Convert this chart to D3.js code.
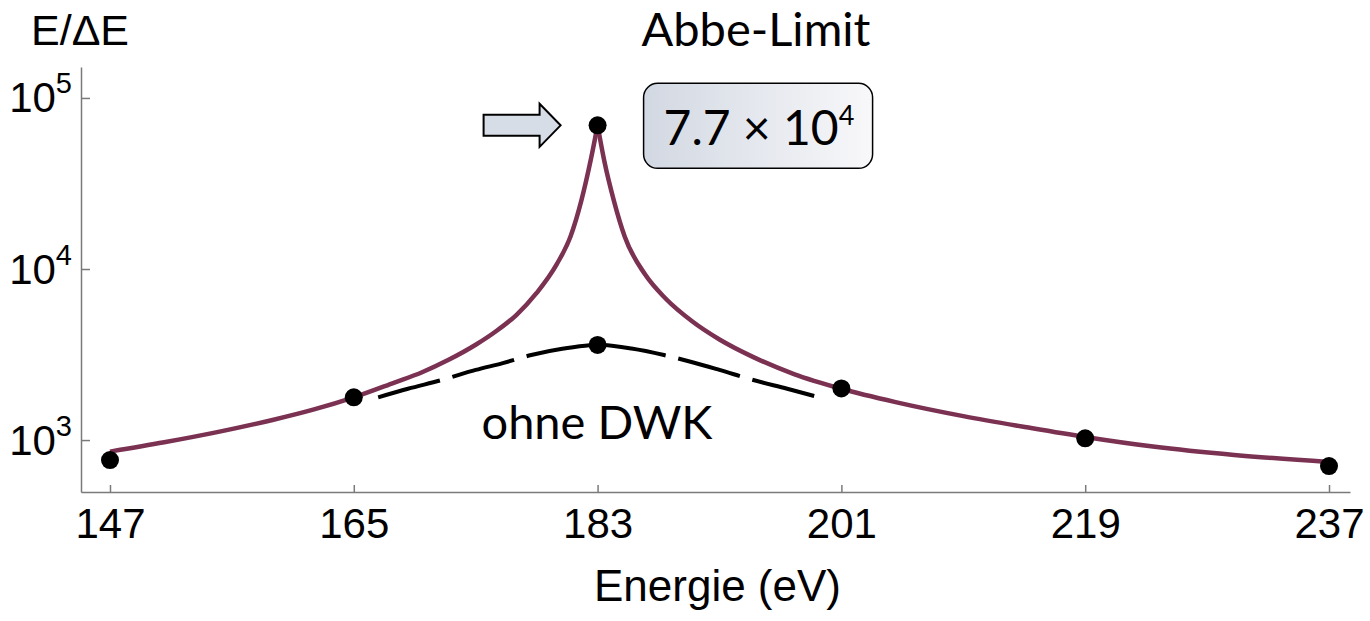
<!DOCTYPE html>
<html>
<head>
<meta charset="utf-8">
<script src="https://cdn.jsdelivr.net/npm/d3@7"></script>
<style>
  body { margin: 0; background: #fff; }
  svg { display: block; background: #fff; }
  .axis path, .axis line { stroke: #7a7a7a; stroke-width: 1.5; }
  .axis text { font-family: "Liberation Sans", Arial, sans-serif; font-size: 42px; fill: #000; }
  .note { font-family: Lato, "Open Sans", sans-serif; fill: #000; }
</style>
</head>
<body>
<svg id="chart" width="1370" height="621"></svg>
<script>
"use strict";

// axis ticks
const xTicks = [147, 165, 183, 201, 219, 237];
const yTicks = [1e3, 1e4, 1e5];
const yTickExp = ['3', '4', '5'];

// E/dE with DWK (solid line)
const curveE = [147, 151, 155, 159, 162, 165, 168, 170, 172, 174, 175.5, 177, 178.5, 180, 181, 181.8, 182.5, 183,
  183.5, 184.2, 185, 186.5, 188, 190, 192, 194.5, 197.5, 201, 205, 210, 215, 219, 224, 230, 237];
const curveR = [856, 970, 1116, 1311, 1506, 1778, 2168, 2483, 2944, 3606, 4325, 5383, 7244, 10720, 15490, 25120, 43650, 69180,
  42660, 25120, 15490, 9311, 6745, 4932, 3873, 3055, 2432, 1995, 1667, 1380, 1175, 1042, 916, 818, 745];

// ohne DWK (dashed line)
const dashE = [166.8, 169, 171.5, 174, 176, 178.1, 180.5, 183, 185.5, 187.9, 190, 192, 194.5, 197, 199.2];
const dashR = [1778, 1995, 2244, 2570, 2818, 3141, 3428, 3597, 3428, 3141, 2851, 2570, 2244, 1995, 1791];

// computed points
const dotE = [147, 165, 183, 183, 201, 219, 237];
const dotR = [764, 1778, 69180, 3597, 2005, 1023, 705];

const peakE = 183;
const peakR = 69180;

(function () {
  let svg = d3.select('#chart');
  let margin = {left: 81, right: 20, top: 67, bottom: 129};
  let width = 1370, height = 621;

  let x = d3.scaleLinear()
    .domain([144.86, 238.55])
    .range([margin.left, width - margin.right]);

  let y = d3.scaleLog()
    .domain([497, 151700])
    .range([height - margin.bottom, margin.top]);

  // axes
  let xAxis = d3.axisBottom(x)
    .tickValues(xTicks)
    .tickSize(-7)
    .tickSizeOuter(0)
    .tickPadding(16)
    .tickFormat(d3.format('d'));

  svg.append('g')
    .attr('class', 'x axis')
    .attr('transform', 'translate(0,' + (height - margin.bottom) + ')')
    .call(xAxis);

  let yAxis = d3.axisLeft(y)
    .tickValues(yTicks)
    .tickSize(-9)
    .tickSizeOuter(0)
    .tickFormat('');

  let gy = svg.append('g')
    .attr('class', 'y axis')
    .attr('transform', 'translate(' + margin.left + ',0)')
    .call(yAxis);

  gy.selectAll('.tick').append('text')
    .attr('x', -9)
    .attr('y', 14)
    .attr('text-anchor', 'end')
    .text('10')
    .append('tspan')
    .attr('dy', -19)
    .style('font-size', '29px')
    .text(function (d, i) {
      return yTickExp[i];
    });

  svg.append('text')
    .attr('x', 31)
    .attr('y', 45)
    .style('font-family', '"Liberation Sans", Arial, sans-serif')
    .style('font-size', '43px')
    .text('E/ΔE');

  svg.append('text')
    .attr('x', (margin.left + width - margin.right) / 2 + 2)
    .attr('y', 601)
    .attr('text-anchor', 'middle')
    .style('font-family', '"Liberation Sans", Arial, sans-serif')
    .style('font-size', '44px')
    .text('Energie (eV)');

  // curves
  let line = d3.line()
    .x(function (d) { return x(d[0]); })
    .y(function (d) { return y(d[1]); })
    .curve(d3.curveMonotoneX);

  let curve = curveE.map(function (e, i) { return [e, curveR[i]]; });
  let leftBranch = curve.filter(function (d) { return d[0] <= peakE; });
  let rightBranch = curve.filter(function (d) { return d[0] >= peakE; });

  svg.selectAll('.dwk')
    .data([leftBranch, rightBranch])
    .enter()
    .append('path')
    .attr('class', 'dwk')
    .attr('d', line)
    .style('fill', 'none')
    .style('stroke', '#7b3151')
    .style('stroke-width', 4.5);

  svg.append('path')
    .datum(dashE.map(function (e, i) { return [e, dashR[i]]; }))
    .attr('d', line)
    .style('fill', 'none')
    .style('stroke', '#000')
    .style('stroke-width', 4)
    .style('stroke-dasharray', '64,13');

  svg.selectAll('.point')
    .data(dotE.map(function (e, i) { return [e, dotR[i]]; }))
    .enter()
    .append('circle')
    .attr('class', 'point')
    .attr('r', 9)
    .attr('cx', function (d) { return x(d[0]); })
    .attr('cy', function (d) { return y(d[1]); })
    .style('fill', '#000');

  // annotation: arrow + value box next to the peak
  let px = x(peakE), py = y(peakR);

  let arrow = [
    [px - 114, py - 10.5], [px - 58, py - 10.5], [px - 58, py - 21.5], [px - 37, py],
    [px - 58, py + 21.5], [px - 58, py + 10.5], [px - 114, py + 10.5]
  ];
  svg.append('path')
    .attr('d', d3.line()(arrow) + 'Z')
    .style('fill', '#d7dde6')
    .style('stroke', '#000')
    .style('stroke-width', 2)
    .style('stroke-linejoin', 'miter');

  let grad = svg.append('defs').append('linearGradient')
    .attr('id', 'boxfill');
  grad.append('stop').attr('offset', '0%').attr('stop-color', '#d2d8e2');
  grad.append('stop').attr('offset', '100%').attr('stop-color', '#f8f8fa');

  svg.append('rect')
    .attr('x', px + 46)
    .attr('y', py - 42)
    .attr('width', 229)
    .attr('height', 85)
    .attr('rx', 14)
    .style('fill', 'url(#boxfill)')
    .style('stroke', '#000')
    .style('stroke-width', 1.5);

  svg.append('text')
    .attr('class', 'note')
    .attr('x', px + 66)
    .attr('y', py + 20)
    .style('font-size', '48px')
    .text('7.7 × 10')
    .append('tspan')
    .attr('dy', -20)
    .style('font-size', '27px')
    .text('4');

  svg.append('text')
    .attr('class', 'note')
    .attr('x', 756)
    .attr('y', 46)
    .attr('text-anchor', 'middle')
    .style('font-size', '47px')
    .text('Abbe-Limit');

  svg.append('text')
    .attr('class', 'note')
    .attr('x', 597)
    .attr('y', 439)
    .attr('text-anchor', 'middle')
    .style('font-size', '47px')
    .text('ohne DWK');
})();
</script>
</body>
</html>
